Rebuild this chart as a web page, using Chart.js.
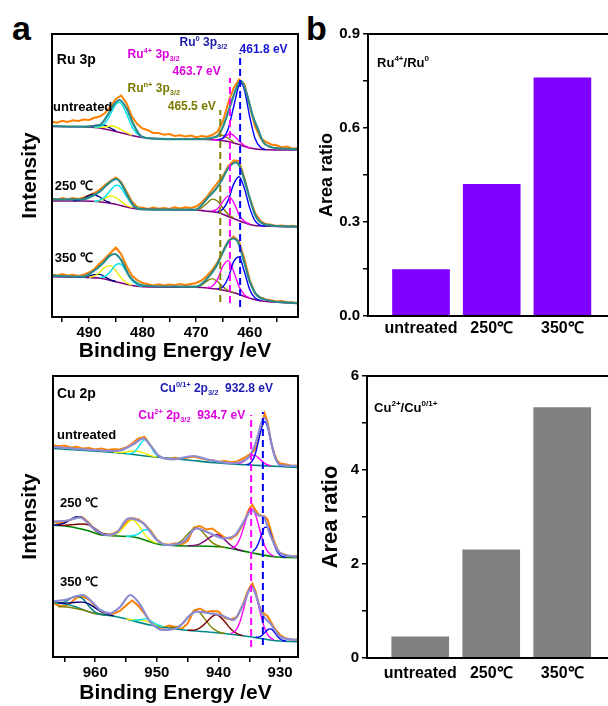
<!DOCTYPE html>
<html>
<head>
<meta charset="utf-8">
<script src="https://cdn.jsdelivr.net/npm/chart.js@4.4.1/dist/chart.umd.min.js"></script>
<style>
  body { margin: 0; background: #fff; width: 608px; height: 706px; position: relative; overflow: hidden; }
  .box { position: absolute; }
  .tag { position: absolute; font: bold 34px "Liberation Sans", Arial, sans-serif; line-height: 1; }
</style>
</head>
<body>
<div class="tag" style="left:12px;top:11px">a</div>
<div class="tag" style="left:306px;top:11px">b</div>
<div class="box" style="left:0;top:0"><canvas id="ru" width="304" height="364"></canvas></div>
<div class="box" style="left:300px;top:0"><canvas id="ruRatio" width="308" height="345"></canvas></div>
<div class="box" style="left:0;top:342px"><canvas id="cu" width="304" height="364"></canvas></div>
<div class="box" style="left:300px;top:342px"><canvas id="cuRatio" width="308" height="364"></canvas></div>
<script>
// ---- ratio panels ----
const samples = ["untreated", "250℃", "350℃"];
const ruRatio = [0.148, 0.42, 0.76];
const cuRatio = [0.45, 2.3, 5.33];
const ruRatioTicks = [0, 0.15, 0.3, 0.45, 0.6, 0.75, 0.9];
const cuRatioTicks = [0, 1, 2, 3, 4, 5, 6];

// ---- Ru 3p spectra (binding energy, intensity offset) ----
const ruTicks = [495, 490, 485, 480, 475, 470, 465, 460, 455];
const ruGrid = [497,496,495,494,493,492,491,490,489,488,487,486,485,484,483,482,481,480,479,478,477,476,475,474,473,472,471,470,469,468,467,466,465,464,463,462,461,460,459,458,457,456,455,454,453,452,451];
const ruU_raw = [195.5,194.2,196.3,195.1,196.8,196.0,197.4,197.0,199.2,200.5,204.0,210.5,218.0,221.5,214.0,200.5,193.0,188.5,186.8,184.0,183.9,182.2,183.0,181.0,181.8,180.6,181.5,179.8,180.9,180.2,182.0,185.5,196.0,214.5,229.0,237.5,233.0,211.0,190.5,179.0,175.2,172.5,171.8,169.6,170.4,168.2,169.0];
const ru250_raw = [118.5,117.2,119.0,117.8,118.9,118.0,119.6,121.5,124.0,127.2,132.0,136.0,139.5,135.0,125.5,115.5,110.0,109.2,108.1,109.4,108.3,109.0,108.0,109.6,108.5,109.8,109.0,110.5,114.5,120.0,127.5,134.5,141.0,151.0,156.5,156.0,139.0,118.5,104.0,96.0,93.0,92.2,91.0,91.6,90.5,91.2,90.0];
const ru350_raw = [42.5,41.2,43.0,41.5,42.3,41.0,42.4,44.5,48.0,53.5,58.5,64.0,69.5,63.0,51.0,41.5,37.0,34.0,32.8,31.6,32.8,31.5,32.6,31.8,32.9,31.9,33.0,34.0,36.5,41.0,47.0,55.0,66.0,76.0,80.5,75.5,58.0,37.0,23.5,19.5,17.5,16.8,15.5,15.9,14.6,14.8,13.5];

const ruU_fit = [[497,191],[491.1,190.3],[488,192],[486.7,200.3],[485.4,212],[484.3,217],[483,208.7],[481.8,193.7],[480.5,182],[478.7,178.7],[470,177.8],[466.2,180.3],[465,190.3],[463.7,210.3],[462.4,230.3],[461.6,236],[460.6,223.7],[459.4,200.3],[458.4,187],[457.5,175],[456.3,170.3],[454,168.5],[451,167.7]];
const ruU_bg = [[497,190.5],[491,190.3],[488,189],[485,185.5],[482,181.5],[480,179.5],[478,178.5],[470,178],[466,177],[464,175.5],[462,172.5],[460,169],[457,167.3],[451,167]];
const ruU_ru0 = [[466,177.3],[465,179],[464,188.5],[463,210.5],[462,231.9],[461.6,233.8],[461,227],[460,200],[459,178.2],[458,169.7],[457,167.3]];
const ruU_ru4 = [[467,177.2],[466,177],[465,178.5],[464,182.6],[463.7,183.5],[463,181.5],[462,176],[461,171.5],[460,169]];
const ruU_run = [[469,178.1],[468,178],[467,179],[466,181.5],[465.5,182],[465,181.5],[464,178.5],[463,175]];
const ruU_ru0b = [[489,189.7],[488,190.4],[487,193.8],[486,202.6],[485,212.4],[484.3,214.6],[484,213.6],[483,203.4],[482,190.6],[481,183],[480,180],[479,179]];
const ruU_ru4b = [[489,189.5],[488,189.6],[487,190],[486,191],[485.6,191],[485,190],[484,187.5],[483,184.5],[482,181.8]];
const ruU_runb = [[491,190.3],[490,190.6],[489,191.5],[488,192],[487.5,192],[487,191.5],[486,189],[485,186]];

const ru250_fit = [[497,117.7],[491.1,117.7],[489.3,121.3],[488,125.3],[486.7,132],[485.5,137],[484.9,138],[484,133.7],[482.7,120.3],[481.5,110.3],[480,107.7],[470,107.3],[468.9,112.5],[467.7,120],[466.4,127.5],[465.2,137],[464.2,147.5],[463.3,153],[462.6,154.5],[461.9,151],[461.2,140.3],[460,118.7],[459,102],[457.7,93.7],[455,91],[451,90.3]];
const ru250_bg = [[497,116],[491,116],[488,115.3],[485,112.7],[482.4,109.3],[480,107.7],[470,107],[468.3,106],[465.8,104.3],[463.9,100.3],[461.2,94.7],[458.7,91.3],[451,90.3]];
const ru250_ru0 = [[466,105.3],[465,108],[464,117.1],[463,132.9],[462,140.2],[461,128.5],[460,108.9],[459,96.1],[458,91.7],[457,90.9]];
const ru250_ru4 = [[467,106],[466,108.2],[465,115.6],[464,120.9],[463,114.7],[462,102.2],[461,95.7],[460,93]];
const ru250_run = [[470,107.5],[469,109.1],[468,113.7],[467,117.9],[466,115.8],[465,108.9],[464,102.6],[463,99]];
const ru250_ru0b = [[489,115.6],[488,116.9],[487,120.2],[486,126.7],[485,131.6],[484.7,131.7],[484,129],[483,120.4],[482,112.8],[481,109.4],[480,108]];
const ru250_ru4b = [[489,115.6],[488,116.5],[487,119],[486,121],[485,119.5],[484,115.5],[483,111.5],[482,109.5]];
const ru250_runb = [[493,116.2],[492,116.6],[491,118.5],[490,121.5],[489.3,122.7],[489,122.5],[488,120],[487,116.5],[486,114.3]];

const ru350_fit = [[497,41.3],[491.1,40.3],[489.3,45.3],[487.4,53.7],[486.2,61],[485.2,63],[484,57],[482.4,40.3],[480.8,33],[478.7,31],[470,30.3],[468.2,37],[466.3,50.3],[465.1,63.7],[463.9,76],[463.2,78.5],[462.3,76],[460.9,52],[460,35.3],[458.7,22],[456.8,17],[451,13.7]];
const ru350_bg = [[497,40.3],[491,39.7],[488,38.7],[485,35.3],[482.4,32],[480,30.3],[470,29.7],[467.5,28.7],[465.1,27],[462.6,23.7],[460,18.7],[458.1,16.3],[451,13.7]];
const ru350_ru0 = [[466,28.1],[465,30.3],[464,39.5],[463,55.4],[462,60],[461,45.1],[460,27.3],[459,19],[458,16.5]];
const ru350_ru4 = [[468,29.3],[467,30.7],[466,37.8],[465,51],[464,56.4],[463,45.6],[462,30.5],[461,22.3],[460,18.9]];
const ru350_run = [[471,29.8],[470,30.2],[469,31.9],[468,35.9],[467,38.4],[466,35.4],[465,30.2],[464,26.3],[463,24.3]];
const ru350_ru0b = [[488,39.3],[487,40.6],[486,45.5],[485,52.1],[484.3,53.2],[484,52.8],[483,45.2],[482,36.6],[481,32.2],[480,30.4]];
const ru350_ru4b = [[490,39.7],[489,40.8],[488,44.7],[487,49.8],[486,51.4],[485,46.3],[484,39.1],[483,34.1],[482,31.9]];
const ru350_runb = [[492,40],[491,40.1],[490,41],[489,42.4],[488,42.6],[487,40],[486,37.2],[485,35.4]];

// reference energies drawn as dashed markers: [eV, from, to]
const ruMarks = [[461.8, 10, 264], [463.7, 14, 239], [465.5, 15, 207]];

// ---- Cu 2p spectra ----
const cuTicks = [965, 960, 955, 950, 945, 940, 935, 930];
const cuGrid = [967,966,965,964,963,962,961,960,959,958,957,956,955,954,953,952,951,950,949,948,947,946,945,944,943,942,941,940,939,938,937,936,935.5,935,934.5,934,933.5,933,932.5,932,931.5,931,930.5,930,929,928,927];
const cuU_raw = [212.2,210.8,211.5,209.6,210.2,208.4,209.0,207.5,208.6,207.0,207.8,207.5,209.5,213.5,218.5,220.0,211.5,202.5,199.0,198.2,199.3,198.0,199.5,200.4,199.0,197.5,196.8,195.2,196.0,194.8,195.6,198.5,200.5,202.5,204.5,208.0,218.0,232.0,243.5,234.0,216.0,204.0,196.5,193.5,192.6,191.0,191.8];
const cu250_raw = [136.0,133.5,134.8,137.2,140.0,139.5,134.0,126.5,123.5,122.2,123.6,127.0,134.5,139.0,137.5,133.0,126.0,117.5,113.0,112.2,113.8,112.6,116.0,129.5,131.0,127.5,128.5,124.0,119.5,118.0,122.5,133.0,141.0,148.5,152.0,147.0,142.5,141.0,140.5,137.0,126.0,116.0,108.5,104.0,101.8,100.6,101.2];
const cu350_raw = [54.5,51.5,50.8,54.0,59.5,60.5,57.5,51.0,45.0,42.5,43.5,46.0,51.5,56.5,51.0,43.5,35.0,30.5,29.0,31.5,30.0,28.0,33.5,46.5,48.5,45.0,46.0,45.5,39.0,37.5,40.0,53.0,62.0,69.0,73.5,66.0,53.0,45.5,43.0,40.5,35.0,29.5,25.5,22.0,18.5,17.2,17.8];

const cuU_fit = [[967.3,210.3],[961.9,207.7],[956.5,206],[953.8,212.7],[952.2,218.7],[951.1,212],[949.5,200.3],[947.3,197.7],[944.1,201],[941.4,197],[937.6,193.7],[936,196],[935,200.5],[934.5,206],[934,213.5],[933.5,224],[933,234.5],[932.5,239],[932,231],[931.5,216],[931,203],[930.5,195],[930,192],[927.3,191]];
const cuU_bg = [[967.3,208.7],[956,204],[951,200.5],[945,197],[940,194],[935,192],[930,190.5],[927.1,189.5]];
const cuU_cu0 = [[935.5,192.5],[935,193.2],[934.5,196.3],[934,203.8],[933.5,216.4],[933,229.5],[932.5,235.3],[932,229.2],[931.5,215.7],[931,202.9],[930.5,195],[930,191.7],[929.5,190.7]];
const cuU_cu2 = [[937,193.6],[936.5,194],[936,195.2],[935.5,197.5],[935,200],[934.5,201.7],[934,201.3],[933.5,199.1],[933,196.1],[932.5,193.7],[932,192.1],[931.5,191.2]];
const cuU_p12a = [[955,203.4],[954.5,203.3],[954,203.9],[953.5,206],[953,209.9],[952.5,214.6],[952,217.1],[951.5,215.5],[951,210.6],[950.5,205.4],[950,201.9],[949.5,200.2],[949,199.4]];
const cuU_p12b = [[957,204.8],[956,204.4],[955,204.9],[954,206],[953,205.8],[952,203.6],[951,201.3],[950,200]];

const cu250_fit = [[967.3,135.3],[964.5,136.5],[962.5,139.7],[960.3,128.7],[958.2,122],[956.5,124.5],[954.6,138.7],[952.2,133.7],[950,117],[948.4,112],[945.7,115.3],[943.6,128.7],[941.4,123.7],[939.2,118.7],[937.3,122],[935.9,135.3],[934.6,147],[933.5,141.5],[932.7,140.3],[931.6,122],[930,103.7],[927.3,100.3]];
const cu250_bg = [[967.3,132],[964,130.3],[961,126],[959,122],[954,120.3],[949,112],[940,110.3],[935,104.7],[931,100.3],[927.1,99.3]];
const cu250_cu2 = [[938,108.8],[937.5,109.7],[937,112.6],[936.5,118.7],[936,127.8],[935.5,138.3],[935,146.3],[934.6,148.3],[934,142.3],[933.5,131.8],[933,120.3],[932.5,111.2],[932,105.4],[931.5,102.4],[931,100.7]];
const cu250_cu0 = [[934.5,105.5],[934,108.1],[933.5,114.1],[933,122.6],[932.5,129.6],[932,129.7],[931.5,122.8],[931,113],[930.5,105.7],[930,101.8],[929.5,100.3],[929,99.8]];
const cu250_sat1 = [[945,111.3],[944,111.6],[943,113.2],[942,116.9],[941,121.2],[940.3,122.4],[940,122.1],[939,117.4],[938,111.7],[937,107.9],[936,106]];
const cu250_sat2 = [[948,112],[947,112.9],[946,116.3],[945,122.8],[944,128.5],[943.6,129],[943,127.5],[942,120.8],[941,114.4],[940,111.3],[939,109.3]];
const cu250_p12a = [[955,120.7],[954,121.2],[953,123.2],[952,127.2],[951.6,127.3],[951,124.7],[950,117.2],[949,112.5],[948,111.8]];
const cu250_p12b = [[958,121.8],[957,122.2],[956,125.4],[955,132.3],[954,137.2],[953,131.8],[952,122.6],[951,116.6],[950,113.8]];
const cu250_sat3 = [[967,131.9],[966,132.3],[965,133.9],[964,137.5],[963,140.2],[962.5,140.2],[962,138.7],[961,133.2],[960,126.9],[959,122.8],[958,121.8]];
const cu250_sat4 = [[966,131.7],[965,131.6],[964,132.2],[963,132.8],[962,133],[961,131.8],[960,128.3],[959,124.2],[958,122.5],[957,121.5]];

const cu350_fit = [[967.3,55.3],[965,57],[962,62],[960.5,55],[959.2,47],[957.6,43.7],[956,50],[954.3,62],[952.7,52],[951.1,35.3],[948.9,27],[946.8,28.7],[943.6,45.3],[941.4,43.7],[939.7,42],[937.6,37],[935.9,53.7],[934.6,70.3],[933.8,59.5],[933,43.7],[931.6,33.7],[930,20.3],[927.3,17]];
const cu350_bg = [[967.3,55.3],[964.1,52],[960.3,43.7],[956.5,40.3],[951.1,32],[945.7,27],[940.3,24.3],[934.9,20.3],[930.6,16.3],[927.1,15.3]];
const cu350_cu2 = [[938,23.5],[937.5,24.8],[937,28.3],[936.5,35.5],[936,46.1],[935.5,58.4],[935,67.7],[934.6,70],[934,63.5],[933.5,51.6],[933,38.7],[932.5,28.6],[932,22.2],[931.5,18.9],[931,17.1]];
const cu350_cu0 = [[934,19.7],[933.5,19.9],[933,21.3],[932.5,24.4],[932,27.4],[931.5,28.1],[931,25.3],[930.5,21.2],[930,18],[929.5,16.5],[929,15.8]];
const cu350_sat1 = [[945,26.7],[944,26.9],[943,29.1],[942,34.5],[941,40.7],[940.3,42.3],[940,41.7],[939,35.5],[938,28],[937,23.3],[936,21.4]];
const cu350_sat2 = [[948,29.5],[947,29.7],[946,32.7],[945,39.4],[944,45.4],[943.6,45.9],[943,44],[942,36.3],[941,28.9],[940,25.2],[939,23.5]];
const cu350_p12a = [[954,36.8],[953,37],[952,38.1],[951.6,37.8],[951,36.2],[950,32.6],[949,30.4]];
const cu350_p12b = [[955,38.2],[954,37.3],[953,37.1],[952,36.4],[951,34.1],[950,31.9],[949,30.3]];
const cu350_sat3 = [[966,54.2],[965,53.8],[964,54.3],[963,54.7],[962,54.9],[961,53],[960,49.1],[959,45.4],[958,42.7],[957,41.1]];
const cu350_sat4 = [[967,55],[966,54.3],[965,54.9],[964,58.4],[963,61],[962,58.1],[961,50.7],[960,44.9],[959,42.7],[958,41.6]];
const cu350_sat5 = [[966,50.5],[964,49.5],[962,47],[960,43.6],[958,41.7]];

const cuMarks = [[932.8, 12, 245], [934.7, 10, 242]];

// ---- styling ----
Chart.defaults.font.family = '"Liberation Sans", Arial, sans-serif';
Chart.defaults.font.weight = 'bold';
Chart.defaults.color = '#000';

const col = {
  raw: '#ff8000', ruFit: '#2b8b8b', ruBg: '#800080', blue: '#0000ff', mag: '#ff00ff',
  olive: '#808000', cyan: '#00e5ee', yellow: '#eeee00', navy: '#000080',
  cuFit: '#8c8cd2', teal: '#008080', green: '#008000', purple: '#800080', maroon: '#800000'
};

const pts = a => a.map(([x, y]) => ({x, y}));
const curve = (a, color, w, smooth = true) => ({
  data: pts(a), borderColor: color, borderWidth: w, pointRadius: 0, fill: false,
  tension: 0, cubicInterpolationMode: smooth ? 'monotone' : 'default'
});
const onGrid = (grid, ys) => grid.map((x, i) => [x, ys[i]]);
const marker = ([x, y0, y1], color) => ({
  data: [{x, y: y0}, {x, y: y1}], borderColor: color, borderWidth: 2, borderDash: [7, 4], pointRadius: 0
});
// top-most first: Chart.js paints index 0 last
const spectrum = (raw, fit, bg, comps, fitColor, bgColor) => [
  curve(fit, fitColor, 2.2),
  ...comps.map(([a, c]) => curve(a, c, 1.4)),
  curve(bg, bgColor, 1.6),
  curve(raw, col.raw, 2, false)
];

function drawRich(ctx, parts, x, y, size) {
  for (const [t, m] of parts) {
    const s = m ? size * 0.62 : size;
    ctx.font = `bold ${s}px "Liberation Sans", Arial, sans-serif`;
    const dy = m === 'sup' ? -size * 0.36 : m === 'sub' ? size * 0.3 : 0;
    ctx.fillText(t, x, y + dy);
    x += ctx.measureText(t).width;
  }
}

const deco = (notes, open) => ({
  id: 'deco',
  afterDatasetsDraw(chart) {
    const {ctx, chartArea: a, scales} = chart;
    ctx.save();
    ctx.strokeStyle = '#000';
    ctx.lineWidth = 2;
    ctx.beginPath();
    if (open) {
      ctx.moveTo(a.right + 2, a.top); ctx.lineTo(a.left, a.top);
      ctx.lineTo(a.left, a.bottom); ctx.lineTo(a.right + 2, a.bottom);
    } else {
      ctx.rect(a.left, a.top, a.right - a.left, a.bottom - a.top);
    }
    ctx.stroke();
    ctx.textBaseline = 'middle';
    ctx.textAlign = 'left';
    for (const n of notes) {
      ctx.fillStyle = n.color || '#000';
      drawRich(ctx, n.parts, scales.x.getPixelForValue(n.x), scales.y.getPixelForValue(n.y), n.size);
    }
    ctx.restore();
  }
});

function spectraChart(id, datasets, xr, ticks, ymax, yAxisW, xAxisH, notes) {
  return new Chart(document.getElementById(id), {
    type: 'line',
    data: {datasets},
    options: {
      responsive: false, animation: false,
      layout: {padding: {top: 34, right: 6, left: 0, bottom: 0}},
      plugins: {legend: {display: false}, tooltip: {enabled: false}},
      scales: {
        x: {
          type: 'linear', reverse: true, min: xr[0], max: xr[1],
          afterBuildTicks: s => { s.ticks = ticks.map(v => ({value: v})); },
          afterFit: s => { s.height = xAxisH; },
          ticks: {autoSkip: false, maxRotation: 0, padding: 2, font: {size: 15},
                  callback: v => (v % 10 === 0 ? String(v) : '')},
          grid: {drawOnChartArea: false, tickLength: 5, color: '#000', lineWidth: 1.5},
          border: {display: false},
          title: {display: true, text: 'Binding Energy /eV', font: {size: 21}, padding: 0}
        },
        y: {
          min: 0, max: ymax,
          afterFit: s => { s.width = yAxisW; },
          ticks: {display: false},
          grid: {display: false},
          border: {display: false},
          title: {display: true, text: 'Intensity', font: {size: 21}, padding: {top: 18, bottom: 0}}
        }
      }
    },
    plugins: [deco(notes, false)]
  });
}

function ratioChart(id, values, color, ticks, ymax, yAxisW, xAxisH, labelPad, titleSize, titlePad, digits, notes) {
  return new Chart(document.getElementById(id), {
    type: 'bar',
    data: {datasets: [{data: values.map((v, i) => ({x: i + 1, y: v})), backgroundColor: color, barThickness: 57}]},
    options: {
      responsive: false, animation: false,
      layout: {padding: {top: 34, right: 0, left: 0, bottom: 0}},
      plugins: {legend: {display: false}, tooltip: {enabled: false}},
      scales: {
        x: {
          type: 'linear', offset: false, min: 0.25, max: 3.645,
          afterBuildTicks: s => { s.ticks = samples.map((_, i) => ({value: i + 1})); },
          afterFit: s => { s.height = xAxisH; },
          ticks: {autoSkip: false, maxRotation: 0, padding: labelPad, font: {size: 16},
                  callback: v => samples[v - 1]},
          grid: {display: false, drawTicks: false},
          border: {display: false}
        },
        y: {
          min: 0, max: ymax,
          afterBuildTicks: s => { s.ticks = ticks.map(v => ({value: v})); },
          afterFit: s => { s.width = yAxisW; },
          ticks: {padding: 3, font: {size: 15}, callback: (v, i) => (i % 2 ? '' : v.toFixed(digits))},
          grid: {drawOnChartArea: false, tickLength: 5, color: '#000', lineWidth: 1.5},
          border: {display: false},
          title: {display: true, text: 'Area ratio', font: {size: titleSize}, padding: {top: titlePad, bottom: 0}}
        }
      }
    },
    plugins: [deco(notes, true)]
  });
}

// ---- Ru 3p ----
const ruNotes = [
  {x: 496.0, y: 257, size: 14, parts: [['Ru 3p']]},
  {x: 473.1, y: 274, size: 12, color: '#1c1ca8', parts: [['Ru'], ['0', 'sup'], [' 3p'], ['3/2', 'sub']]},
  {x: 461.9, y: 267, size: 12, color: '#1414d2', parts: [['461.8 eV']]},
  {x: 482.8, y: 262, size: 12, color: '#dd00dd', parts: [['Ru'], ['4+', 'sup'], [' 3p'], ['3/2', 'sub']]},
  {x: 474.4, y: 245, size: 12, color: '#dd00dd', parts: [['463.7 eV']]},
  {x: 482.8, y: 228, size: 12, color: '#7a7a00', parts: [['Ru'], ['n+', 'sup'], [' 3p'], ['3/2', 'sub']]},
  {x: 475.3, y: 210, size: 12, color: '#7a7a00', parts: [['465.5 eV']]},
  {x: 496.7, y: 210, size: 13, parts: [['untreated']]},
  {x: 496.4, y: 131, size: 13, parts: [['250 ℃']]},
  {x: 496.4, y: 59, size: 13, parts: [['350 ℃']]}
];
const ruSets = [
  marker(ruMarks[0], col.blue), marker(ruMarks[1], col.mag), marker(ruMarks[2], col.olive),
  ...spectrum(onGrid(ruGrid, ruU_raw), ruU_fit, ruU_bg,
    [[ruU_ru0, col.blue], [ruU_ru4, col.mag], [ruU_run, col.olive], [ruU_ru0b, col.cyan], [ruU_ru4b, col.yellow], [ruU_runb, col.navy]],
    col.ruFit, col.ruBg),
  ...spectrum(onGrid(ruGrid, ru250_raw), ru250_fit, ru250_bg,
    [[ru250_ru0, col.blue], [ru250_ru4, col.mag], [ru250_run, col.olive], [ru250_ru0b, col.cyan], [ru250_ru4b, col.yellow], [ru250_runb, col.navy]],
    col.ruFit, col.ruBg),
  ...spectrum(onGrid(ruGrid, ru350_raw), ru350_fit, ru350_bg,
    [[ru350_ru0, col.blue], [ru350_ru4, col.mag], [ru350_run, col.olive], [ru350_ru0b, col.cyan], [ru350_ru4b, col.yellow], [ru350_runb, col.navy]],
    col.ruFit, col.ruBg)
];
spectraChart('ru', ruSets, [451, 496.9], ruTicks, 283, 52, 47, ruNotes);

// ---- Cu 2p ----
const cuNotes = [
  {x: 966.2, y: 263, size: 14, parts: [['Cu 2p']]},
  {x: 949.5, y: 268, size: 12, color: '#1c1cb0', parts: [['Cu'], ['0/1+', 'sup'], [' 2p'], ['3/2', 'sub'], ['  932.8 eV']]},
  {x: 953.0, y: 241, size: 12, color: '#dd00dd', parts: [['Cu'], ['2+', 'sup'], [' 2p'], ['3/2', 'sub'], ['  934.7 eV']]},
  {x: 966.2, y: 222, size: 13, parts: [['untreated']]},
  {x: 965.7, y: 154, size: 13, parts: [['250 ℃']]},
  {x: 965.7, y: 75, size: 13, parts: [['350 ℃']]}
];
const cuSets = [
  marker(cuMarks[0], col.blue), marker(cuMarks[1], col.mag),
  ...spectrum(onGrid(cuGrid, cuU_raw), cuU_fit, cuU_bg,
    [[cuU_cu0, col.blue], [cuU_cu2, col.mag], [cuU_p12a, col.cyan], [cuU_p12b, col.yellow]],
    col.cuFit, col.teal),
  ...spectrum(onGrid(cuGrid, cu250_raw), cu250_fit, cu250_bg,
    [[cu250_cu0, col.blue], [cu250_cu2, col.mag], [cu250_sat1, col.purple], [cu250_sat2, col.olive],
     [cu250_p12a, col.cyan], [cu250_p12b, col.yellow], [cu250_sat3, col.navy], [cu250_sat4, col.maroon]],
    col.cuFit, col.green),
  ...spectrum(onGrid(cuGrid, cu350_raw), cu350_fit, cu350_bg,
    [[cu350_cu0, col.blue], [cu350_cu2, col.mag], [cu350_sat1, col.maroon], [cu350_sat2, col.olive],
     [cu350_p12a, col.cyan], [cu350_p12b, col.yellow], [cu350_sat3, col.navy], [cu350_sat4, col.teal], [cu350_sat5, col.olive]],
    col.cuFit, '#00898b')
];
spectraChart('cu', cuSets, [927.1, 966.85], cuTicks, 281, 53, 49, cuNotes);

// ---- area ratios ----
ratioChart('ruRatio', ruRatio, '#7f00ff', ruRatioTicks, 0.9, 68, 29, 3, 18, 16, 1,
  [{x: 0.378, y: 0.8075, size: 13, parts: [['Ru'], ['4+', 'sup'], ['/Ru'], ['0', 'sup']]}]);
ratioChart('cuRatio', cuRatio, '#808080', cuRatioTicks, 6, 67, 48, 6, 22, 18, 0,
  [{x: 0.35, y: 5.3, size: 13, parts: [['Cu'], ['2+', 'sup'], ['/Cu'], ['0/1+', 'sup']]}]);
</script>
</body>
</html>
